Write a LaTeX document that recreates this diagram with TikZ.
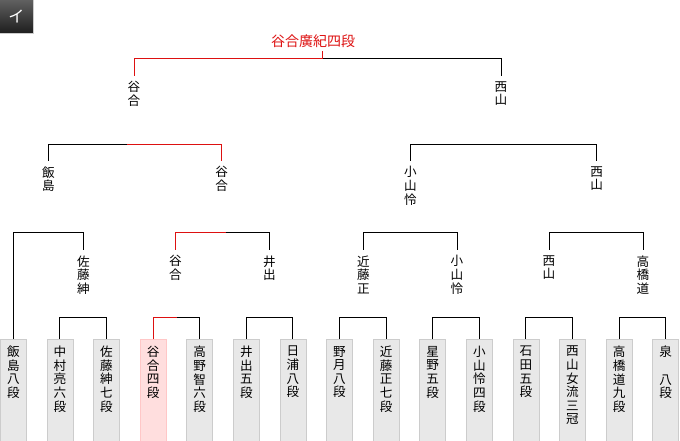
\documentclass[tikz,border=0pt]{standalone}
\usepackage{fontspec}
\newfontfamily\jp{Noto Sans CJK JP}
\definecolor{winred}{RGB}{221,17,17}

\begin{document}
\begin{tikzpicture}[x=1pt, y=-1pt,
    pbox/.style={draw=gray!40, fill=gray!18, line width=0.8pt, minimum width=26pt,
        minimum height=104pt, anchor=north, inner sep=0pt},
    wbox/.style={pbox, draw=red!22, fill=red!13},
    pname/.style={anchor=north, align=center, inner sep=0pt,
        font=\jp\fontsize{12.6}{13.6}\selectfont},
    rname/.style={pname, outer ysep=6pt},
    bline/.style={line width=1pt, black},
    wline/.style={line width=1pt, winred}]
    \useasboundingbox (0,0) rectangle (680,440);

    % Tab icon in the top left corner
    \node[minimum size=33pt, inner sep=0pt, top color=gray!75!black, bottom color=black!88,
        text=white, font=\jp\fontsize{16}{16}\selectfont] (tab) at (16.5,16.5) {イ};
    \draw[gray!40] (tab.north east) -- (tab.south east) -- (tab.south west);

    % Players of the first round (boxes at the bottom)
    \foreach \i/\nm/\sty in {1/{飯\\島\\八\\段}/pbox, 2/{中\\村\\亮\\六\\段}/pbox,
        3/{佐\\藤\\紳\\七\\段}/pbox, 4/{谷\\合\\四\\段}/wbox, 5/{高\\野\\智\\六\\段}/pbox,
        6/{井\\出\\五\\段}/pbox, 7/{日\\浦\\八\\段}/pbox, 8/{野\\月\\八\\段}/pbox,
        9/{近\\藤\\正\\七\\段}/pbox, 10/{星\\野\\五\\段}/pbox, 11/{小\\山\\怜\\四\\段}/pbox,
        12/{石\\田\\五\\段}/pbox, 13/{西\\山\\女\\流\\三\\冠}/pbox,
        14/{高\\橋\\道\\九\\段}/pbox, 15/{泉\\\mbox{}\\八\\段}/pbox} {
        \node[\sty] (p\i) at ({13.3+46.6*(\i-1)},339) {};
        \node[pname, yshift=-7pt] (n\i) at (p\i.north) {\nm};
    }

    % Winners of the first round
    \node[rname] (sato2)   at (83.3,249.5)  {佐\\藤\\紳};
    \node[rname] (tani2)   at (175.5,249.5) {谷\\合};
    \node[rname] (ide2)    at (269.5,249.5) {井\\出};
    \node[rname] (kondo2)  at (363.3,249.5) {近\\藤\\正};
    \node[rname] (koyama2) at (457,249.5)   {小\\山\\怜};
    \node[rname] (nishi2)  at (549,249.5)   {西\\山};
    \node[rname] (taka2)   at (643,249.5)   {高\\橋\\道};

    % Second round and semifinal winners
    \node[rname] (iijima3) at (48.3,160.5)  {飯\\島};
    \node[rname] (tani3)   at (221.7,160.5) {谷\\合};
    \node[rname] (koyama3) at (410.3,160.5) {小\\山\\怜};
    \node[rname] (nishi3)  at (596.7,160.5) {西\\山};
    \node[rname] (tani4)   at (134,75.5)    {谷\\合};
    \node[rname] (nishi4)  at (501,75.5)    {西\\山};

    % Champion
    \node[anchor=south, inner sep=0pt, outer ysep=3pt, text=winred,
        font=\jp\fontsize{14}{14}\selectfont] (champ) at (313,51) {谷合廣紀四段};

    % Junctions of the bracket
    \coordinate (m11) at (83.3,317.3);
    \coordinate (m12) at (177,317.3);
    \coordinate (m13) at (269.5,317.3);
    \coordinate (m14) at (363.3,317.3);
    \coordinate (m15) at (457,317.3);
    \coordinate (m16) at (549,317.3);
    \coordinate (m17) at (643,317.3);
    \coordinate (m21) at (48.3,232.3);
    \coordinate (m22) at (226,232.3);
    \coordinate (m23) at (410.3,232.3);
    \coordinate (m24) at (596.7,232.3);
    \coordinate (m31) at (127,144.3);
    \coordinate (m32) at (501,144.3);
    \coordinate (m41) at (322,58.3);

    % Bracket lines
    \draw[bline] (p2.north) |- (m11) -| (p3.north);
    \draw[bline] (p4.north) |- (m12) -| (p5.north);
    \draw[bline] (p6.north) |- (m13) -| (p7.north);
    \draw[bline] (p8.north) |- (m14) -| (p9.north);
    \draw[bline] (p10.north) |- (m15) -| (p11.north);
    \draw[bline] (p12.north) |- (m16) -| (p13.north);
    \draw[bline] (p14.north) |- (m17) -| (p15.north);
    \draw[bline] (p1.north) |- (m21) -| (sato2.north);
    \draw[bline] (tani2.north) |- (m22) -| (ide2.north);
    \draw[bline] (kondo2.north) |- (m23) -| (koyama2.north);
    \draw[bline] (nishi2.north) |- (m24) -| (taka2.north);
    \draw[bline] (iijima3.north) |- (m31) -| (tani3.north);
    \draw[bline] (koyama3.north) |- (m32) -| (nishi3.north);
    \draw[bline] (tani4.north) |- (m41) -| (nishi4.north);

    % Path of the champion
    \draw[wline] (p4.north) |- (m12);
    \draw[wline] (tani2.north) |- (m22);
    \draw[wline] (tani3.north) |- (m31);
    \draw[wline] (tani4.north) |- (m41) -- (m41 |- champ.south);
\end{tikzpicture}
\end{document}
